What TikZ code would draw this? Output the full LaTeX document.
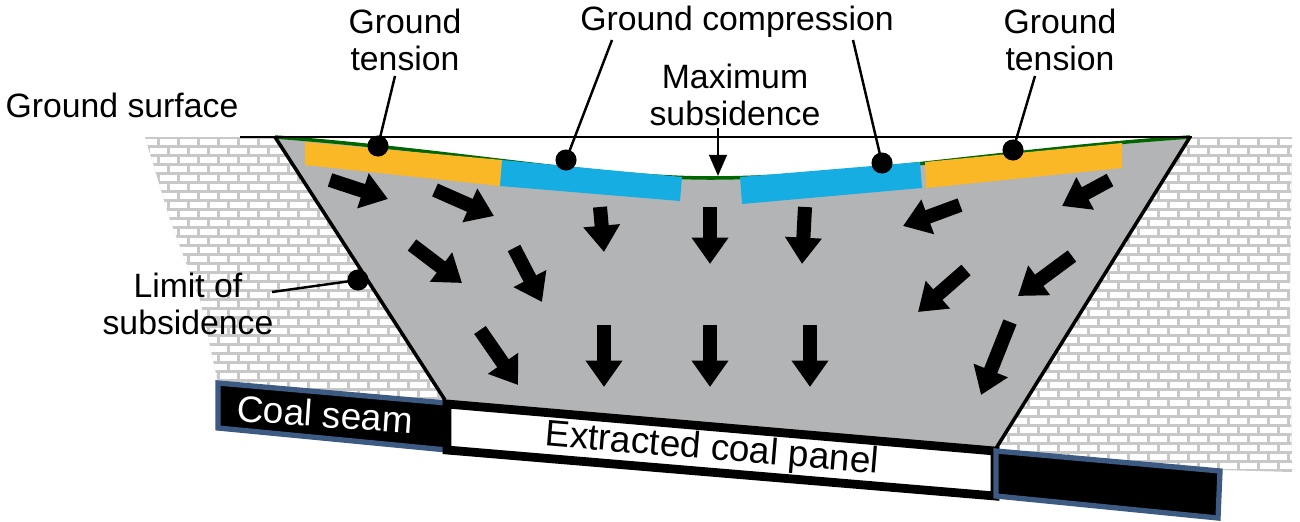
\documentclass[tikz,border=0pt]{standalone}
\usepackage{fontspec}
\setmainfont{Liberation Sans}
\usetikzlibrary{arrows.meta}
\definecolor{ora}{RGB}{251,184,38}
\definecolor{blu}{RGB}{22,174,226}
\definecolor{gr}{RGB}{178,180,182}
\definecolor{brk}{RGB}{200,200,200}
\definecolor{seam}{RGB}{60,90,130}
\begin{document}
\begin{tikzpicture}[x=0.01cm,y=-0.01cm,
  blk/.style={line width=4pt,-{Triangle[width=10pt,length=7.5pt]}},
  lead/.style={line width=0.7pt},
  dot/.style={circle,fill=black,inner sep=0pt,minimum size=6pt},
  lab/.style={font=\fontsize{9.6}{10.4}\selectfont,align=center,inner sep=0pt}]
\useasboundingbox (0,0) rectangle (1300,521);
% bricks
\begin{scope}
\clip (145,137) -- (275,137) -- (445,400) -- (218,383) -- (200,300) -- (170,220) -- cycle
      (1190,137) -- (1292,137) -- (1290,300) -- (1292,472) -- (1220,470) -- (995,450) -- cycle;
\fill[brk] (140,130) rectangle (1300,480);
\foreach \r in {0,...,38}{
  \pgfmathsetmacro\yy{137+\r*9}
  \pgfmathsetmacro\off{mod(\r,2)*10}
  \foreach \c in {0,...,58}{
    \fill[white] ({140+\off+\c*20},\yy+1.5) rectangle ++(16.5,6);
  }}
\end{scope}
% gray subsidence body
\fill[gr] (275,137) .. controls (450,150) and (600,178) .. (710,178) .. controls (850,178) and (1000,150) .. (1190,137) -- (995,450) -- (445,400) -- cycle;
\draw[green!40!black,line width=1pt] (275,137) .. controls (450,150) and (600,178) .. (710,178) .. controls (850,178) and (1000,150) .. (1190,137);
\draw[line width=1pt] (275,137) -- (445,400) (1190,137) -- (995,450);
% strips
\fill[ora] (305,142) -- (502,160) -- (500,186) -- (305,165) -- cycle;
\fill[blu] (502,160) -- (682,177) -- (680,201) -- (500,186) -- cycle;
\fill[blu] (740,177) -- (920,162) -- (922,188) -- (742,204) -- cycle;
\fill[ora] (925,162) -- (1122,143) -- (1122,168) -- (926,188) -- cycle;
% ground surface line
\draw[line width=0.8pt] (240,137) -- (1192,137);
% coal
\draw[seam,line width=1.5pt,fill=black] (218,383) -- (447,403) -- (447,450) -- (218,428) -- cycle;
\draw[black,line width=2.5pt,fill=white] (447,404) -- (995,451) -- (995,496) -- (447,450) -- cycle;
\draw[seam,line width=1.5pt,fill=black] (996,451) -- (1220,471) -- (1218,518) -- (996,496) -- cycle;
\node[lab,white,rotate=-4,font=\fontsize{10.5}{11}\selectfont] (cs) at (325,414) {Coal seam};
\node[lab,rotate=-4.8,font=\fontsize{10.5}{11}\selectfont] (ecp) at (712,450) {Extracted coal panel};
% block arrows
\draw[blk] (330,180) -- (388,199);
\draw[blk] (435,190) -- (494,216);
\draw[blk] (412,245) -- (462,283);
\draw[blk] (514,248) -- (542,302);
\draw[blk] (600,207) -- (604,252);
\draw[blk] (710,207) -- (710,264);
\draw[blk] (805,207) -- (802,264);
\draw[blk] (960,205) -- (903,226);
\draw[blk] (1110,180) -- (1062,206);
\draw[blk] (1072,256) -- (1018,296);
\draw[blk] (966,270) -- (918,312);
\draw[blk] (480,330) -- (518,385);
\draw[blk] (604,325) -- (604,387);
\draw[blk] (710,325) -- (710,387);
\draw[blk] (810,325) -- (810,387);
\draw[blk] (1010,322) -- (981,395);
% labels
\node[lab] (gs) at (122,105) {Ground surface};
\node[lab] (gtl) at (405,40) {Ground\\tension};
\node[lab] (gc) at (737,22) {Ground compression};
\node[lab] (ms) at (735,95) {Maximum\\subsidence};
\node[lab] (gtr) at (1060,40) {Ground\\tension};
\node[lab] (ls) at (188,304) {Limit of\\subsidence};
% dots
\node[dot] (d1) at (378,146) {};
\node[dot] (d2) at (566,160) {};
\node[dot] (d3) at (882,163) {};
\node[dot] (d4) at (1013,150) {};
\node[dot] (d5) at (358,280) {};
\coordinate (ms1) at (718,128);
\coordinate (ms2) at (718,176);
\draw[lead] (395,76) -- (d1.center);
\draw[lead] (612,40) -- (d2.center);
\draw[lead] (853,40) -- (d3.center);
\draw[lead] (1035,76) -- (d4.center);
\draw[lead] (272,292) -- (d5.center);
\draw[lead,-{Triangle[width=5pt,length=6pt]}] (ms1) -- (ms2);
\end{tikzpicture}
\end{document}
